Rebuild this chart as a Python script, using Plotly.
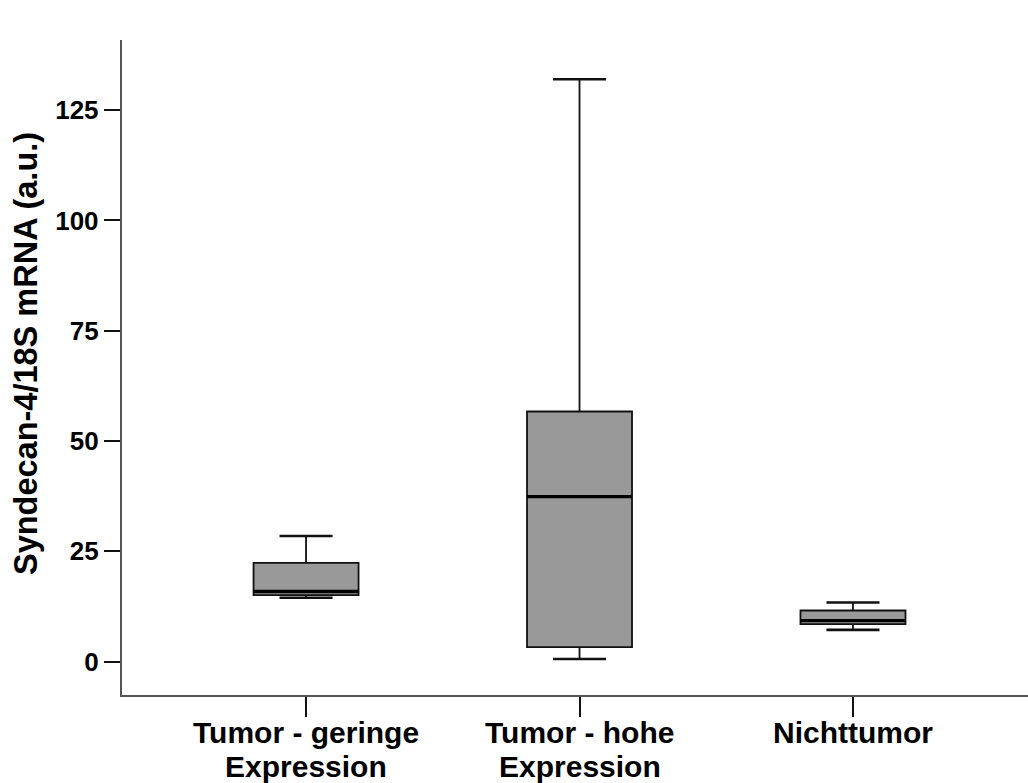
import plotly.graph_objects as go

# ---- data ----
label_line1 = ["Tumor - geringe", "Tumor - hohe", "Nichttumor"]
label_line2 = ["Expression", "Expression", ""]
positions = [0, 1, 2]
lower_whisker = [14.5, 0.6, 7.2]
q1_vals = [15.1, 3.3, 8.5]
median_vals = [15.9, 37.4, 9.3]
q3_vals = [22.4, 56.7, 11.6]
upper_whisker = [28.5, 132.0, 13.4]
y_ticks = [0, 25, 50, 75, 100, 125]
y_title = "Syndecan-4/18S mRNA (a.u.)"

FONT = "Liberation Sans, Arial, Helvetica, sans-serif"
BOX_W = 0.384
CAP_W = 0.194

fig = go.Figure()

for i, x in enumerate(positions):
    fig.add_trace(go.Box(
        x=[x],
        q1=[q1_vals[i]], median=[median_vals[i]], q3=[q3_vals[i]],
        lowerfence=[lower_whisker[i]], upperfence=[upper_whisker[i]],
        width=BOX_W,
        fillcolor="#999999",
        line=dict(color="#111111", width=1.8),
        whiskerwidth=0,
        boxpoints=False,
        showlegend=False,
        hoverinfo="skip",
    ))
    # whisker caps
    for yv in (lower_whisker[i], upper_whisker[i]):
        fig.add_trace(go.Scatter(
            x=[x - CAP_W / 2, x + CAP_W / 2], y=[yv, yv],
            mode="lines", line=dict(color="#111111", width=2.6),
            showlegend=False, hoverinfo="skip",
        ))
    # thick median
    fig.add_trace(go.Scatter(
        x=[x - BOX_W / 2, x + BOX_W / 2], y=[median_vals[i], median_vals[i]],
        mode="lines", line=dict(color="#000000", width=3.4),
        showlegend=False, hoverinfo="skip",
    ))

annotations = []
for i, x in enumerate(positions):
    annotations.append(dict(
        x=x, y=0, xref="x", yref="paper", text=f"<b>{label_line1[i]}</b>",
        showarrow=False, yanchor="middle", xanchor="center", yshift=-37,
        font=dict(family=FONT, size=30, color="#000000"),
    ))
    if label_line2[i]:
        annotations.append(dict(
            x=x, y=0, xref="x", yref="paper", text=f"<b>{label_line2[i]}</b>",
            showarrow=False, yanchor="middle", xanchor="center", yshift=-71,
            font=dict(family=FONT, size=30, color="#000000"),
        ))
annotations.append(dict(
    x=0, y=(695 - 354) / 655, xref="paper", yref="paper", text=f"<b>{y_title}</b>",
    showarrow=False, textangle=-90, xanchor="center", yanchor="middle", xshift=-96,
    font=dict(family=FONT, size=32.5, color="#000000"),
))

fig.update_layout(
    width=1028, height=783,
    margin=dict(l=122, r=0, t=40, b=88),
    paper_bgcolor="white", plot_bgcolor="white",
    showlegend=False,
    annotations=annotations,
    xaxis=dict(
        range=[-0.673, 2.640],
        tickvals=positions, ticktext=["" for _ in positions],
        showgrid=False, zeroline=False,
        showline=True, linecolor="#555555", linewidth=2.4,
        ticks="outside", ticklen=20, tickwidth=1.6, tickcolor="#111111",
    ),
    yaxis=dict(
        range=[-7.55, 140.9],
        tickvals=y_ticks, ticktext=[f"<b>{v}</b>" for v in y_ticks],
        tickfont=dict(family=FONT, size=26, color="#000000"),
        showgrid=False, zeroline=False,
        showline=True, linecolor="#555555", linewidth=2.4,
        ticks="outside", ticklen=16, tickwidth=1.6, tickcolor="#111111",
    ),
)

fig.write_html("out.html")
